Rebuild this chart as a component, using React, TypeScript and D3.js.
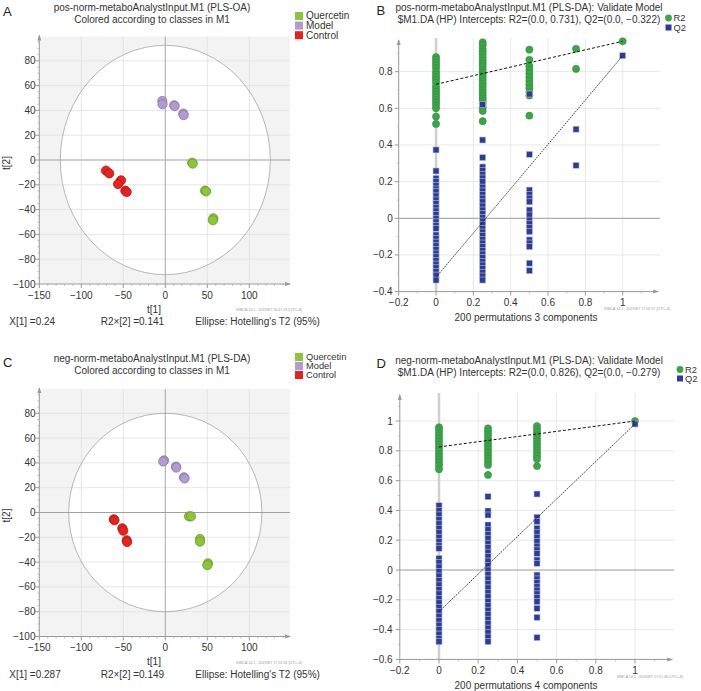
import React from 'react';
import * as d3 from 'd3';

// ---------------- DATA ----------------
const classNames = ['Quercetin', 'Model', 'Control'];
const classFill = ['#8cc43c', '#b29bce', '#e3241f'];
const classEdge = ['#6a9a27', '#8a74a8', '#b01a16'];

// Panel A (pos) scores t[1], t[2]
const posQuercetin = [[32, -2.2], [32.6, -2.9], [47.3, -24.7], [48.6, -25.3], [57.2, -47.0], [56.7, -48.6]];
const posModel = [[-3.6, 47.6], [-3.3, 45.0], [10.7, 44.1], [11.1, 43.5], [21.4, 37.4], [21.9, 36.2]];
const posControl = [[-70.6, -8.6], [-66.7, -10.8], [-52.7, -16.4], [-56.3, -19.4], [-47.6, -24.7], [-46.0, -25.8]];

// Panel C (neg) scores
const negQuercetin = [[28.2, -3.1], [30.6, -3.1], [41.3, -21.4], [41.3, -23.5], [50.8, -41.0], [50.0, -42.5]];
const negModel = [[-1.5, 42.0], [-2.5, 41.2], [12.7, 37.0], [13.2, 36.2], [22.3, 28.4], [23.0, 27.5]];
const negControl = [[-61.4, -5.5], [-60.5, -6.2], [-51.2, -12.7], [-50.0, -14.7], [-46.0, -22.4], [-45.5, -23.8]];

const scoreXTicks = [-150, -100, -50, 0, 50, 100];
const scoreYTicks = [-100, -80, -60, -40, -20, 0, 20, 40, 60, 80];

// Panel B validation (pos, 3 components)
const bR2at0 = [0.88, 0.865, 0.85, 0.835, 0.82, 0.80, 0.785, 0.77, 0.755, 0.74, 0.72, 0.705, 0.69, 0.675, 0.66, 0.645, 0.63, 0.615, 0.60, 0.555, 0.515];
const bR2at025 = [0.96, 0.945, 0.925, 0.91, 0.895, 0.875, 0.86, 0.845, 0.83, 0.81, 0.795, 0.78, 0.765, 0.75, 0.735, 0.72, 0.70, 0.685, 0.67, 0.655, 0.64, 0.625, 0.605, 0.585, 0.53];
const bR2at05 = [0.92, 0.865, 0.83, 0.81, 0.79, 0.77, 0.75, 0.73, 0.71, 0.69, 0.67, 0.56];
const bR2at075 = [0.925, 0.815];
const bR2at1 = [0.966];
const bQ2at0 = [0.373, 0.258, 0.218, 0.2, 0.18, 0.16, 0.145, 0.122, 0.1, 0.08, 0.06, 0.04, 0.02, 0.0, -0.02, -0.04, -0.055, -0.091, -0.11, -0.13, -0.15, -0.17, -0.19, -0.21, -0.23, -0.25, -0.27, -0.29, -0.31, -0.337];
const bQ2at025 = [0.62, 0.427, 0.331, 0.28, 0.26, 0.24, 0.22, 0.2, 0.17, 0.149, 0.13, 0.11, 0.09, 0.067, 0.045, 0.025, 0.005, -0.015, -0.035, -0.055, -0.075, -0.095, -0.115, -0.135, -0.155, -0.175, -0.195, -0.215, -0.235, -0.255, -0.275, -0.295, -0.315, -0.337];
const bQ2at05 = [0.678, 0.349, 0.154, 0.13, 0.11, 0.09, 0.045, 0.018, -0.01, -0.03, -0.05, -0.073, -0.118, -0.135, -0.155, -0.245, -0.286];
const bQ2at075 = [0.486, 0.289];
const bQ2at1 = [0.887];
const bR2Intercept = 0.731;
const bQ2Intercept = -0.322;

// Panel D validation (neg, 4 components)
const dR2at0 = [0.958, 0.94, 0.92, 0.90, 0.88, 0.86, 0.84, 0.82, 0.80, 0.78, 0.76, 0.74, 0.72, 0.70, 0.676];
const dR2at025 = [0.951, 0.93, 0.91, 0.89, 0.87, 0.85, 0.83, 0.81, 0.79, 0.77, 0.75, 0.73, 0.705, 0.638];
const dR2at05 = [0.966, 0.945, 0.925, 0.905, 0.885, 0.865, 0.845, 0.825, 0.805, 0.785, 0.765, 0.745, 0.698];
const dR2at1 = [1.0];
const dQ2at0 = [0.432, 0.40, 0.37, 0.34, 0.31, 0.28, 0.25, 0.22, 0.19, 0.165, 0.146, 0.078, 0.05, 0.02, -0.01, -0.04, -0.07, -0.10, -0.13, -0.16, -0.19, -0.22, -0.25, -0.28, -0.31, -0.34, -0.37, -0.40, -0.43, -0.46, -0.481];
const dQ2at025 = [0.492, 0.396, 0.369, 0.302, 0.27, 0.24, 0.21, 0.18, 0.15, 0.12, 0.09, 0.06, 0.03, 0.0, -0.03, -0.06, -0.09, -0.12, -0.15, -0.18, -0.21, -0.24, -0.27, -0.30, -0.33, -0.36, -0.39, -0.42, -0.45, -0.481];
const dQ2at05 = [0.51, 0.354, 0.325, 0.28, 0.25, 0.22, 0.19, 0.16, 0.135, 0.112, 0.067, 0.045, -0.034, -0.06, -0.085, -0.11, -0.135, -0.16, -0.185, -0.212, -0.257, -0.318, -0.454];
const dQ2at1 = [0.98];
const dR2Intercept = 0.826;
const dQ2Intercept = -0.279;

const valXTicks = [-0.2, 0, 0.2, 0.4, 0.6, 0.8, 1];
const bYTicks = [-0.4, -0.2, 0, 0.2, 0.4, 0.6, 0.8];
const dYTicks = [-0.6, -0.4, -0.2, 0, 0.2, 0.4, 0.6, 0.8, 1];

// ---------------- HELPERS ----------------
const FONT = "'Liberation Sans', Arial, Helvetica, sans-serif";
const TXT = '#333';
const fmt = (v: number) => (v < 0 ? '\u2212' + String(Math.abs(+v.toFixed(2))) : String(+v.toFixed(2)));
const cols = (xs: number[], arrs: number[][]) => arrs.flatMap((a, i) => a.map((v) => [xs[i], v]));

function ScoresPanel(p: any) {
  const x = d3.scaleLinear().domain([-150, 150]).range([39.3, 291.3]);
  const y = d3.scaleLinear().domain([-100, 100]).range([p.yBottom, p.yBottom - 248]);
  const right = 290;
  const top = y(100) + 0.5;
  const bottom = y(-100);
  const left = x(-150);
  const groups = [p.quercetin, p.model, p.control];
  const minorY = d3.range(-100, 100, 5).filter((v) => v % 20 !== 0);
  const minorX = d3.range(-150, 150, 10).filter((v) => v % 50 !== 0 && x(v) < right - 4);
  return (
    <g fontFamily={FONT}>
      <text x={3} y={p.titleY + 5} fontSize={13} fill="#222">{p.letter}</text>
      <text x={152} y={p.titleY} fontSize={10} fill={TXT} textAnchor="middle">{p.title}</text>
      <text x={152} y={p.titleY + 11.5} fontSize={10} fill={TXT} textAnchor="middle">Colored according to classes in M1</text>
      {classNames.map((c, i) => (
        <g key={c}>
          <rect x={295} y={p.legendY + i * p.legendStep - 4} width={8} height={8} fill={classFill[i]} />
          <text x={306} y={p.legendY + i * p.legendStep + 3.3} fontSize={p.legendFont} fill={TXT}>{c}</text>
        </g>
      ))}
      <rect x={left} y={top} width={right - left} height={bottom - top} fill="#f3f3f3" />
      <ellipse cx={x(0)} cy={y(0)} rx={x(p.ea) - x(0)} ry={y(0) - y(p.eb)} fill="#fff" />
      {scoreXTicks.filter((v) => v !== 0 && v !== -150).map((v) => (
        <line key={'gx' + v} x1={x(v)} x2={x(v)} y1={top} y2={bottom} stroke="#e0e0e0" strokeWidth={0.8} />
      ))}
      {scoreYTicks.filter((v) => v !== 0 && v !== -100).map((v) => (
        <line key={'gy' + v} x1={left} x2={right} y1={y(v)} y2={y(v)} stroke="#e0e0e0" strokeWidth={0.8} />
      ))}
      <ellipse cx={x(0)} cy={y(0)} rx={x(p.ea) - x(0)} ry={y(0) - y(p.eb)} fill="none" stroke="#9a9a9a" strokeWidth={0.7} />
      <line x1={x(0)} x2={x(0)} y1={top} y2={bottom} stroke="#a8a8a8" strokeWidth={1} />
      <line x1={left} x2={right} y1={y(0)} y2={y(0)} stroke="#a0a0a0" strokeWidth={1.2} />
      {/* axes */}
      <line x1={left} x2={left} y1={bottom} y2={top - 1} stroke="#999" strokeWidth={1} />
      <path d={`M${left - 2},${top + 4} L${left},${top - 2} L${left + 2},${top + 4} Z`} fill="#999" />
      <line x1={left} x2={right} y1={bottom} y2={bottom} stroke="#999" strokeWidth={1} />
      <path d={`M${right - 5},${bottom - 2} L${right + 1},${bottom} L${right - 5},${bottom + 2} Z`} fill="#999" />
      {scoreYTicks.map((v) => (
        <g key={'ty' + v}>
          <line x1={left - 4} x2={left} y1={y(v)} y2={y(v)} stroke="#999" />
          <text x={35.5} y={y(v) + 3.5} fontSize={10} fill={TXT} textAnchor="end">{fmt(v)}</text>
        </g>
      ))}
      {minorY.map((v) => (
        <line key={'my' + v} x1={left - 2} x2={left} y1={y(v)} y2={y(v)} stroke="#aaa" strokeWidth={0.7} />
      ))}
      {scoreXTicks.map((v) => (
        <g key={'tx' + v}>
          <line x1={x(v)} x2={x(v)} y1={bottom} y2={bottom + 4} stroke="#999" />
          <text x={x(v)} y={bottom + 14.5} fontSize={10} fill={TXT} textAnchor="middle">{fmt(v)}</text>
        </g>
      ))}
      {minorX.map((v) => (
        <line key={'mx' + v} x1={x(v)} x2={x(v)} y1={bottom} y2={bottom + 2} stroke="#aaa" strokeWidth={0.7} />
      ))}
      <text x={154} y={bottom + 28.5} fontSize={10} fill={TXT} textAnchor="middle">t[1]</text>
      <text transform={`translate(${9.5},${y(0) + 3}) rotate(-90)`} fontSize={10} fill={TXT} textAnchor="middle">t[2]</text>
      <text x={236} y={bottom + 27} fontSize={3.6} fill="#999">{p.simca}</text>
      <text x={9.3} y={bottom + 41} fontSize={10} fill={TXT}>{p.x1}</text>
      <text x={100.7} y={bottom + 41} fontSize={10} fill={TXT}>{p.r2x}</text>
      <text x={195.3} y={bottom + 41} fontSize={10} fill={TXT}>Ellipse: Hotelling's T2 (95%)</text>
      {/* points */}
      {groups.map((g: number[][], gi: number) =>
        g.map((d, i) => (
          <circle key={gi + '-' + i} cx={x(d[0])} cy={y(d[1])} r={4.6} fill={classFill[gi]} stroke={classEdge[gi]} strokeWidth={0.8} />
        ))
      )}
    </g>
  );
}

function ValidatePanel(p: any) {
  const x = d3.scaleLinear().domain([-0.2, 1]).range([p.x0, p.x1]);
  const y = d3.scaleLinear().domain([p.yMin, 1]).range([p.yBottom, p.yOne]);
  const left = x(-0.2);
  const bottom = y(p.yMin);
  const right = x(1.2);
  const top = p.top;
  const r2 = cols(p.r2x, p.r2);
  const q2 = cols(p.q2x, p.q2);
  const minorY = d3.range(p.yMin, p.yTopVal, 0.1).map((v) => +v.toFixed(2)).filter((v) => Math.abs((v * 10) % 2) > 0.5);
  const minorX = [-0.1, 0.1, 0.3, 0.5, 0.7, 0.9, 1.1];
  return (
    <g fontFamily={FONT}>
      <text x={376.5} y={p.titleY + 4} fontSize={13} fill="#222">{p.letter}</text>
      <text x={529} y={p.titleY} fontSize={10} fill={TXT} textAnchor="middle">{p.title}</text>
      <text x={529} y={p.titleY + 12} fontSize={10} fill={TXT} textAnchor="middle">{p.subtitle}</text>
      <circle cx={p.legX} cy={p.legY} r={3.4} fill="#3da44a" />
      <text x={p.legX + 5} y={p.legY + 3.2} fontSize={p.legFont} fill={TXT}>R2</text>
      <rect x={p.legX - 3} y={p.legY + p.legStep - 3} width={6} height={6} fill="#2f3d8f" />
      <text x={p.legX + 5} y={p.legY + p.legStep + 3.2} fontSize={p.legFont} fill={TXT}>Q2</text>
      {valXTicks.filter((v) => v > 0.1).map((v) => (
        <line key={'gx' + v} x1={x(v)} x2={x(v)} y1={top - 2} y2={bottom} stroke="#e2e2e2" strokeWidth={0.8} />
      ))}
      {p.yTicks.filter((v: number) => v !== 0 && v !== p.yMin).map((v: number) => (
        <line key={'gy' + v} x1={left} x2={right} y1={y(v)} y2={y(v)} stroke="#e2e2e2" strokeWidth={0.8} />
      ))}
      <line x1={x(0)} x2={x(0)} y1={top - 2} y2={bottom} stroke="#cfcfcf" strokeWidth={2.5} />
      <line x1={left} x2={right} y1={y(0)} y2={y(0)} stroke="#9a9a9a" strokeWidth={1} />
      <line x1={left} x2={left} y1={bottom} y2={top} stroke="#999" strokeWidth={1} />
      <path d={`M${left - 2},${top + 5} L${left},${top - 1} L${left + 2},${top + 5} Z`} fill="#999" />
      <line x1={left} x2={right - 2} y1={bottom} y2={bottom} stroke="#999" strokeWidth={1} />
      <path d={`M${right - 7},${bottom - 2} L${right - 1},${bottom} L${right - 7},${bottom + 2} Z`} fill="#999" />
      {p.yTicks.map((v: number) => (
        <g key={'ty' + v}>
          <line x1={left - 4} x2={left} y1={y(v)} y2={y(v)} stroke="#999" />
          <text x={392.7} y={y(v) + 3.5} fontSize={10} fill={TXT} textAnchor="end">{fmt(v)}</text>
        </g>
      ))}
      {minorY.map((v: number) => (
        <line key={'my' + v} x1={left - 2} x2={left} y1={y(v)} y2={y(v)} stroke="#aaa" strokeWidth={0.7} />
      ))}
      {valXTicks.map((v) => (
        <g key={'tx' + v}>
          <line x1={x(v)} x2={x(v)} y1={bottom} y2={bottom + 4} stroke="#999" />
          <text x={x(v)} y={bottom + 14.5} fontSize={10} fill={TXT} textAnchor="middle">{fmt(v)}</text>
        </g>
      ))}
      {minorX.map((v) => (
        <line key={'mx' + v} x1={x(v)} x2={x(v)} y1={bottom} y2={bottom + 2} stroke="#aaa" strokeWidth={0.7} />
      ))}
      <text x={526} y={bottom + 29.5} fontSize={10} fill={TXT} textAnchor="middle">{p.xlabel}</text>
      <text x={p.simcaX} y={bottom + 18.5} fontSize={3.6} fill="#999">{p.simca}</text>
      {r2.map((d, i) => (
        <circle key={'r' + i} cx={x(d[0])} cy={y(d[1])} r={3.6} fill="#3da44a" stroke="#2f8a3a" strokeWidth={0.5} />
      ))}
      {q2.map((d, i) => (
        <rect key={'q' + i} x={x(d[0]) - 3} y={y(d[1]) - 3} width={6} height={6} fill="#2f3d8f" stroke="#b9c0e2" strokeWidth={0.6} />
      ))}
      <line x1={x(0)} y1={y(p.r2i)} x2={x(1)} y2={y(p.r2[p.r2.length - 1][0])} stroke="#111" strokeWidth={1} strokeDasharray="3,2" />
      <line x1={x(0)} y1={y(p.q2i)} x2={x(1)} y2={y(p.q2[p.q2.length - 1][0])} stroke="#111" strokeWidth={0.8} strokeDasharray="1.6,1" />
    </g>
  );
}

export default function App() {
  return (
    <svg width={701} height={691} style={{ position: 'absolute', left: 0, top: 0, background: '#fff' }}>
      <rect width={701} height={691} fill="#fff" />
      <ScoresPanel
        letter="A" title="pos-norm-metaboAnalystInput.M1 (PLS-OA)" titleY={11}
        legendY={16} legendStep={9.6} legendFont={10}
        yBottom={284} ea={125} eb={92.5}
        quercetin={posQuercetin} model={posModel} control={posControl}
        x1="X[1] =0.24" r2x="R2×[2] =0.141" simca="SIMCA 14.1 - 2019/8/7 16:47:23 (UTC+8)"
      />
      <ScoresPanel
        letter="C" title="neg-norm-metaboAnalystInput.M1 (PLS-DA)" titleY={362}
        legendY={357} legendStep={9} legendFont={9.3}
        yBottom={636.5} ea={115} eb={80}
        quercetin={negQuercetin} model={negModel} control={negControl}
        x1="X[1] =0.287" r2x="R2×[2] =0.149" simca="SIMCA 14.1 - 2019/8/7 17:20:56 (UTC+8)"
      />
      <ValidatePanel
        letter="B" titleY={10.5}
        title="pos-norm-metaboAnalystInput.M1 (PLS-DA): Validate Model"
        subtitle="$M1.DA (HP) Intercepts: R2=(0.0, 0.731), Q2=(0.0, −0.322)"
        legX={668.5} legY={18} legStep={9.5} legFont={9.3}
        x0={398.7} x1={622.7} yMin={-0.4} yBottom={291.6} yOne={35} yTopVal={0.98} top={40}
        yTicks={bYTicks}
        r2x={[0, 0.25, 0.5, 0.75, 1]} r2={[bR2at0, bR2at025, bR2at05, bR2at075, bR2at1]}
        q2x={[0, 0.25, 0.5, 0.75, 1]} q2={[bQ2at0, bQ2at025, bQ2at05, bQ2at075, bQ2at1]}
        r2i={bR2Intercept} q2i={bQ2Intercept}
        xlabel="200 permutations 3 components" simcaX={604} simca="SIMCA 14.1 - 2019/8/7 17:05:57 (UTC+8)"
      />
      <ValidatePanel
        letter="D" titleY={363.5}
        title="neg-norm-metaboAnalystInput.M1 (PLS-DA): Validate Model"
        subtitle="$M1.DA (HP) Intercepts: R2=(0.0, 0.826), Q2=(0.0, −0.279)"
        legX={680} legY={369.5} legStep={9} legFont={9.3}
        x0={399.8} x1={635} yMin={-0.6} yBottom={659.4} yOne={421} yTopVal={1.15} top={395}
        yTicks={dYTicks}
        r2x={[0, 0.25, 0.5, 1]} r2={[dR2at0, dR2at025, dR2at05, dR2at1]}
        q2x={[0, 0.25, 0.5, 1]} q2={[dQ2at0, dQ2at025, dQ2at05, dQ2at1]}
        r2i={dR2Intercept} q2i={dQ2Intercept}
        xlabel="200 permutations 4 components" simcaX={616.7} simca="SIMCA 14.1 - 2019/8/7 17:21:46 (UTC+8)"
      />
    </svg>
  );
}
